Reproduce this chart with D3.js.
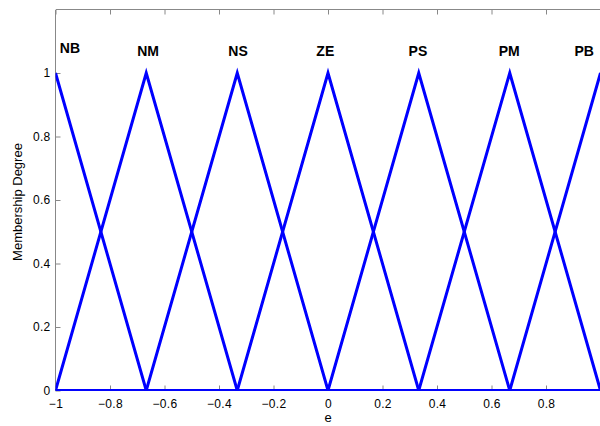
<!DOCTYPE html>
<html>
<head>
<meta charset="utf-8">
<script src="https://cdn.jsdelivr.net/npm/d3@7"></script>
<style>
body{margin:0;background:#fff;}
svg{display:block;font-family:"Liberation Sans",Arial,sans-serif;}
</style>
</head>
<body>
<div id="chart"></div>
<script>
// membership function names and triangle params [a, b, c]
const names = ['NB','NM','NS','ZE','PS','PM','PB'];
const params = [
  [-1.333,-1,-0.667],
  [-1,-0.667,-0.333],
  [-0.667,-0.333,0],
  [-0.333,0,0.333],
  [0,0.333,0.667],
  [0.333,0.667,1],
  [0.667,1,1.333]
];
// label anchor positions
const labelX = [-0.947,-0.66,-0.33,-0.01,0.33,0.665,0.94];
const labelY = [1.063,1.055,1.055,1.055,1.052,1.052,1.052];
const xTicks = [-1,-0.8,-0.6,-0.4,-0.2,0,0.2,0.4,0.6,0.8];
const yTicks = [0,0.2,0.4,0.6,0.8,1];

const width=600, height=426;
const margin={top:9.5,bottom:35.5,left:55.5,right:-0.5};

const svg=d3.select('#chart').append('svg')
  .attr('width',width).attr('height',height);

const x=d3.scaleLinear().domain([-1,1]).range([margin.left,width-margin.right]);
const y=d3.scaleLinear().domain([0,1.2]).range([height-margin.bottom,margin.top]);

function trimf(v,p){
  const [a,b,c]=p;
  if(v<=a||v>=c) return 0;
  return v<=b ? (v-a)/(b-a) : (c-v)/(c-b);
}

svg.append('clipPath').attr('id','clip').append('rect')
  .attr('x',x(-1)).attr('y',y(1.2)).attr('width',x(1)-x(-1)).attr('height',y(0)-y(1.2));

// frame (left, bottom, top)
const frame=svg.append('g').attr('stroke','#888').attr('fill','none').attr('shape-rendering','crispEdges');
frame.append('line').attr('x1',x(-1)).attr('x2',x(-1)).attr('y1',y(0)).attr('y2',y(1.2));
frame.append('line').attr('x1',x(-1)).attr('x2',width).attr('y1',y(1.2)).attr('y2',y(1.2));
frame.append('line').attr('x1',x(-1)).attr('x2',width).attr('y1',y(0)).attr('y2',y(0));

const fmt=d=>d3.format('')(+d.toFixed(1));
const styleText=g=>g.selectAll('text').attr('font-size','12px').attr('fill','#000')
  .attr('letter-spacing','0.3px').attr('font-family','"Liberation Sans",Arial,sans-serif');

// x ticks bottom and top (inward)
svg.append('g').attr('transform',`translate(0,${y(0)})`)
  .call(d3.axisBottom(x).tickValues(xTicks).tickSizeInner(-5).tickSizeOuter(0).tickPadding(9).tickFormat(fmt))
  .call(g=>g.select('.domain').remove())
  .call(g=>g.selectAll('.tick line').attr('stroke','#888'))
  .call(styleText);
svg.append('g').attr('transform',`translate(0,${y(1.2)})`)
  .call(d3.axisTop(x).tickValues(xTicks).tickSizeInner(-5).tickSizeOuter(0).tickFormat(''))
  .call(g=>g.select('.domain').remove())
  .call(g=>g.selectAll('.tick line').attr('stroke','#888'));

// y ticks
svg.append('g').attr('transform',`translate(${x(-1)},0)`)
  .call(d3.axisLeft(y).tickValues(yTicks).tickSizeInner(-5).tickSizeOuter(0).tickPadding(5).tickFormat(fmt))
  .call(g=>g.select('.domain').remove())
  .call(g=>g.selectAll('.tick line').attr('stroke','#888'))
  .call(styleText);

// membership curves
const line=d3.line().x(d=>x(d[0])).y(d=>y(d[1]));
const curves=svg.append('g').attr('clip-path','url(#clip)');
params.forEach(p=>{
  const xs=[-1,...p,1].filter(v=>v>=-1&&v<=1).sort((a,b)=>a-b);
  const pts=xs.map(v=>[v,trimf(v,p)]);
  curves.append('path').datum(pts).attr('d',line)
    .attr('fill','none').attr('stroke','#0000ff').attr('stroke-width',3)
    .attr('stroke-linejoin','miter');
});

// labels
svg.append('g').selectAll('text').data(names).join('text')
  .attr('x',(d,i)=>x(labelX[i])).attr('y',(d,i)=>y(labelY[i]))
  .attr('text-anchor','middle').attr('font-weight','bold').attr('font-size','14px')
  .text(d=>d);

// axis titles
svg.append('text').attr('x',x(0)).attr('y',422).attr('text-anchor','middle')
  .attr('font-size','13px').text('e');
svg.append('text').attr('transform',`translate(22,${(y(0)+y(1.2))/2 + 2}) rotate(-90)`)
  .attr('text-anchor','middle').attr('font-size','13px').text('Membership Degree');
</script>
</body>
</html>
